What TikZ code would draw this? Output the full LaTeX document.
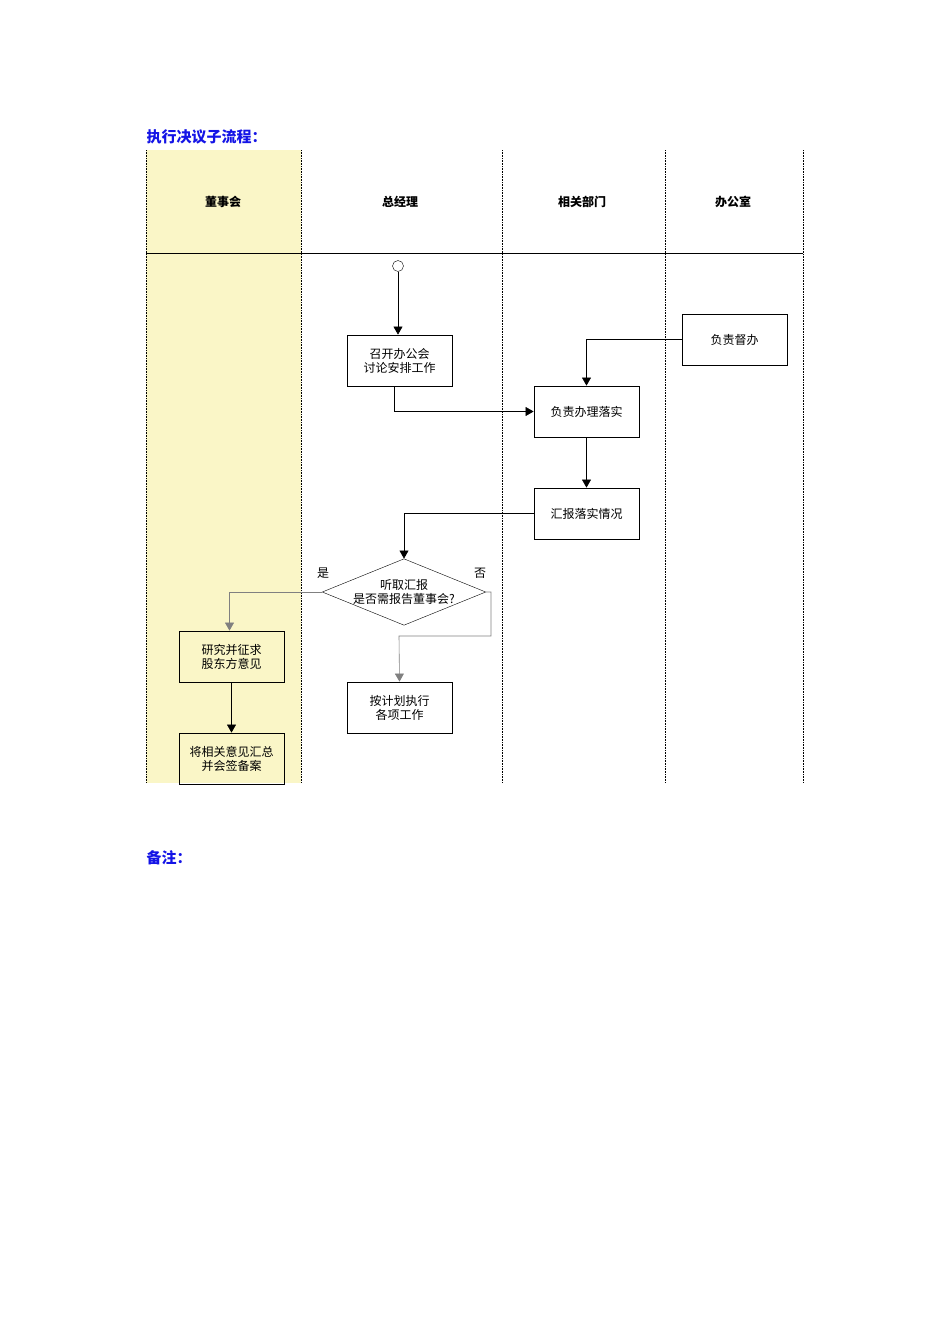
\documentclass[tikz,border=0pt]{standalone}
\usepackage{fontspec}
\setmainfont{Noto Sans CJK SC}
\usetikzlibrary{shapes.geometric,arrows.meta}
\definecolor{lanefill}{RGB}{250,246,199}
\definecolor{titleblue}{RGB}{20,20,230}
\tikzset{
  stepbox/.style={draw,thick,minimum width=105pt,minimum height=51pt,align=center,font=\fontsize{12}{14}\selectfont},
  decide/.style={draw,diamond,aspect=2.46,minimum width=138pt,minimum height=56pt,inner sep=0pt,align=center,font=\fontsize{12}{14}\selectfont},
  flow/.style={-{Triangle[length=8pt,width=9pt]},semithick},
  greyflow/.style={-{Triangle[length=8pt,width=9pt]},semithick,gray},
  lane/.style={densely dotted,semithick},
  head/.style={font=\bfseries\fontsize{12}{14}\selectfont}
}
\begin{document}
\begin{tikzpicture}[x=1pt,y=-1pt]
  \useasboundingbox (0,0) rectangle (950,1344);
  %lanes
  \fill[lanefill] (146,150) rectangle (301,783);
  \foreach \x in {146,301,502,665,803}
    \draw[lane] (\x,150) -- (\x,783);
  \draw[semithick] (146,253) -- (803,253);
  \node[head] (hboard) at (223,202) {董事会};
  \node[head] (hgm) at (400,202) {总经理};
  \node[head] (hdept) at (582,202) {相关部门};
  \node[head] (hoff) at (733,202) {办公室};
  %titles
  \node[anchor=west,font=\bfseries\fontsize{15}{17}\selectfont,text=titleblue] (title) at (143,137) {执行决议子流程：};
  \node[anchor=west,font=\bfseries\fontsize{15}{17}\selectfont,text=titleblue] (note) at (143,858) {备注：};
  %nodes
  \node[draw,circle,minimum size=11pt,inner sep=0pt] (start) at (398,266) {};
  \node[stepbox] (meet) at (399.5,360.5) {召开办公会\\讨论安排工作};
  \node[stepbox] (handle) at (586.5,411.5) {负责办理落实};
  \node[stepbox] (supervise) at (734.5,339.5) {负责督办};
  \node[stepbox] (report) at (586.5,513.5) {汇报落实情况};
  \node[decide] (ask) at (404,592) {听取汇报\\是否需报告董事会?};
  \node[stepbox] (study) at (231.5,656.5) {研究并征求\\股东方意见};
  \node[stepbox] (exec) at (399.5,707.5) {按计划执行\\各项工作};
  \node[stepbox] (file) at (231.5,758.5) {将相关意见汇总\\并会签备案};
  \node[font=\fontsize{12}{14}\selectfont] (yes) at (323,573) {是};
  \node[font=\fontsize{12}{14}\selectfont] (no) at (480,573) {否};
  %connectors
  \draw[flow] (start) -- (start |- meet.north);
  \draw[flow] ([xshift=-5pt]meet.south) |- (handle.west);
  \draw[flow] (supervise.west) -| (handle.north);
  \draw[flow] (handle) -- (report);
  \draw[flow] (report.west) -| (ask.north);
  \draw[greyflow] (ask.west) -| ([xshift=-2pt]study.north);
  \draw[greyflow] (ask.east) -- ++(5,0) |- (399,636) -- (exec.north);
  \draw[flow] (study) -- (file);
\end{tikzpicture}
\end{document}
